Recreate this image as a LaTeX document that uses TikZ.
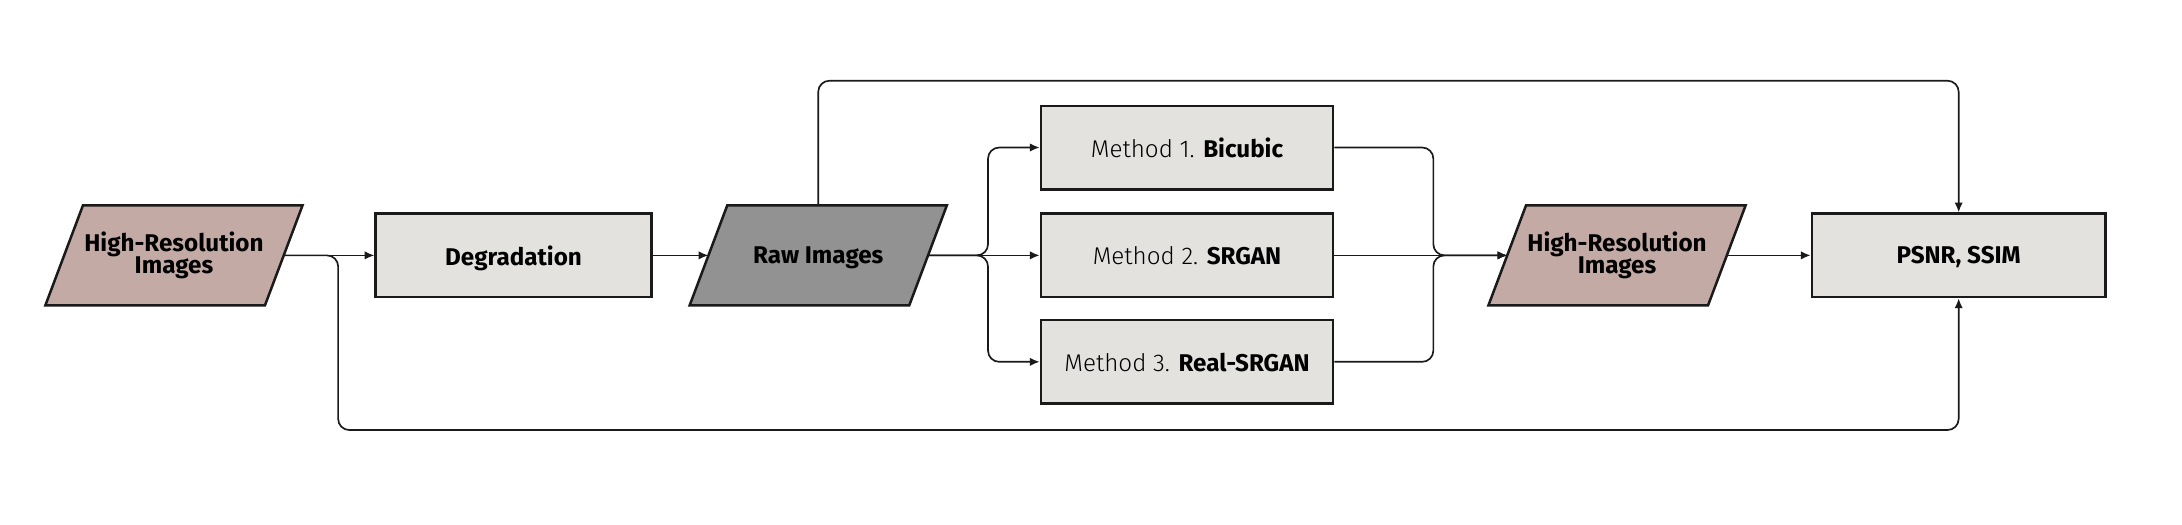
\documentclass[tikz,border=0pt]{standalone}
\usepackage{fontspec}
\setmainfont{Fira Sans}
\newfontfamily\lightfont{Fira Sans Light}
\usetikzlibrary{arrows.meta,calc,backgrounds}
\definecolor{hrfill}{HTML}{C4AAA5}
\definecolor{boxfill}{HTML}{E3E2DF}
\definecolor{rawfill}{HTML}{929292}
\definecolor{edge}{HTML}{1A1A1A}
\begin{document}
\begin{tikzpicture}[x=0.5pt,y=-0.5pt,
  box/.style={draw=edge, line width=0.9pt, fill=boxfill, minimum width=105pt, minimum height=30pt, inner sep=0pt, text depth=0pt, font=\fontsize{8.7}{9}\selectfont},
  para/.style={minimum width=78.5pt, minimum height=35.5pt, inner sep=0pt, align=center, font=\bfseries\fontsize{8.7}{8.2}\selectfont},
  pshape/.style={draw=edge, line width=0.9pt},
  conn/.style={draw=edge, line width=0.6pt, rounded corners=4pt},
  arr/.style={conn, -{Latex[length=3.5pt,width=3pt]}}
]
\useasboundingbox (0,0) rectangle (1568,377);

% nodes
\node[box, minimum width=99pt, font=\bfseries\fontsize{8.7}{9}\selectfont] (deg) at (369,183.5) {Degradation};
\node[para] (hr1) at (125,183.5) {High-Resolution\\Images};
\node[para, text depth=0pt] (raw) at (588,183.5) {Raw Images};
\node[box] (m1) at (853,106) {{\lightfont Method 1.} \textbf{Bicubic}};
\node[box] (m2) at (853,183.5) {{\lightfont Method 2.} \textbf{SRGAN}};
\node[box] (m3) at (853,260) {{\lightfont Method 3.} \textbf{Real-SRGAN}};
\node[para] (hr2) at (1162,183.5) {High-Resolution\\Images};
\node[box, minimum width=105.5pt, font=\bfseries\fontsize{8.7}{9}\selectfont] (psnr) at (1407.5,183.5) {PSNR, SSIM};

% parallelogram outlines
\begin{scope}[on background layer]
  \foreach \n/\c in {hr1/hrfill, raw/rawfill, hr2/hrfill}{
    \draw[pshape, fill=\c] ($(\n.north west)+(6.75pt,0pt)$) -- ($(\n.north east)+(6.75pt,0pt)$)
      -- ($(\n.south east)-(6.75pt,0pt)$) -- ($(\n.south west)-(6.75pt,0pt)$) -- cycle;
  }
\end{scope}

% helper coordinates
\coordinate (split) at (710,183.5);
\coordinate (merge) at (1030,183.5);
\coordinate (top) at (588,58);
\coordinate (bot) at (243,309);

% connectors
\draw[arr] (hr1.east) -- (deg.west);
\draw[arr] (deg.east) -- (raw.west);
\draw[arr] (raw.east) -- (m2.west);
\draw[arr] (raw.east) -| (split |- m1.west) -- (m1.west);
\draw[arr] (raw.east) -| (split |- m3.west) -- (m3.west);
\draw[arr] (m1.east) -| (merge) -- (hr2.west);
\draw[arr] (m3.east) -| (merge) -- (hr2.west);
\draw[arr] (m2.east) -- (hr2.west);
\draw[arr] (hr2.east) -- (psnr.west);
\draw[arr] (raw.north) -- (top) -| (psnr.north);
\draw[arr] (hr1.east) -| (bot) -| (psnr.south);
\end{tikzpicture}
\end{document}
